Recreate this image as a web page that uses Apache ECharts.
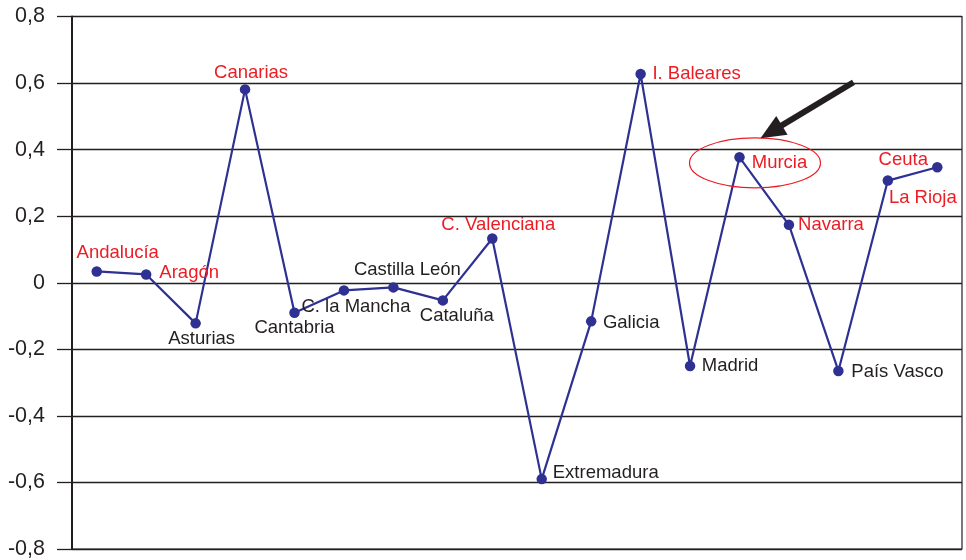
<!DOCTYPE html>
<html>
<head>
<meta charset="utf-8">
<script src="https://cdn.jsdelivr.net/npm/echarts@6/dist/echarts.min.js"></script>
<style>
  html, body { margin: 0; padding: 0; background: #ffffff; }
  #chart { width: 966px; height: 560px; }
</style>
</head>
<body>
<div id="chart"></div>
<script>
// Regions in the order they are plotted along the line
const regions = [
  'Andalucía', 'Aragón', 'Asturias', 'Canarias', 'Cantabria', 'C. la Mancha',
  'Castilla León', 'Cataluña', 'C. Valenciana', 'Extremadura', 'Galicia',
  'I. Baleares', 'Madrid', 'Murcia', 'Navarra', 'País Vasco', 'La Rioja', 'Ceuta'
];

// Value for each region
const values = [
  0.034, 0.025, -0.122, 0.581, -0.090, -0.023,
  -0.014, -0.053, 0.133, -0.590, -0.116,
  0.627, -0.250, 0.377, 0.174, -0.265, 0.307, 0.347
];

// Regions whose label is written in red
const redRegions = [
  'Andalucía', 'Aragón', 'Canarias', 'C. Valenciana', 'I. Baleares',
  'Murcia', 'Navarra', 'La Rioja', 'Ceuta'
];

// Region singled out with an ellipse and an arrow
const circledRegion = 'Murcia';

// Y axis range and step
const yMin = -0.8, yMax = 0.8, yStep = 0.2;

// Label placement: offset of the label centre from its point, in px
const labelOffsets = {
  'Andalucía': [21, -19], 'Aragón': [43, -2], 'Asturias': [6, 16],
  'Canarias': [6, -16], 'Cantabria': [0, 15], 'C. la Mancha': [12, 17],
  'Castilla León': [14, -18], 'Cataluña': [14, 16], 'C. Valenciana': [6, -14],
  'Extremadura': [64, -6], 'Galicia': [40, 2], 'I. Baleares': [56, 0],
  'Madrid': [40, 0], 'Murcia': [40, 6], 'Navarra': [42, 0],
  'País Vasco': [59, 1], 'La Rioja': [35, 17], 'Ceuta': [-34, -7]
};

const INK = '#231f20';
const RED = '#ed1c24';
const NAVY = '#2e3192';
const FONT = '"Liberation Sans", Arial, Helvetica, sans-serif';

const chart = echarts.init(document.getElementById('chart'), null, { renderer: 'canvas' });

const seriesData = values.map((v, i) => ({
  value: v,
  label: {
    offset: labelOffsets[regions[i]] || [0, 0],
    color: redRegions.includes(regions[i]) ? RED : INK
  }
}));

chart.setOption({
  animation: false,
  backgroundColor: '#ffffff',
  grid: {
    left: 72, right: 4, top: 16.5, bottom: 7.7,
    containLabel: false,
    show: true,
    borderColor: INK,
    borderWidth: 1.2
  },
  xAxis: {
    type: 'category',
    data: regions,
    boundaryGap: true,
    axisLine: { show: false },
    axisTick: { show: false },
    axisLabel: { show: false },
    splitLine: { show: false }
  },
  yAxis: {
    type: 'value',
    min: yMin, max: yMax, interval: yStep,
    axisLine: { show: true, lineStyle: { color: INK, width: 2 } },
    axisTick: { show: true, inside: false, length: 15, lineStyle: { color: INK, width: 1.3 } },
    axisLabel: {
      color: INK, fontSize: 21.5, fontFamily: FONT, margin: 27,
      formatter: v => Math.abs(v) < 1e-9 ? '0' : v.toFixed(1).replace('.', ',')
    },
    splitLine: { show: true, lineStyle: { color: INK, width: 1.3 } }
  },
  series: [{
    type: 'line',
    data: seriesData,
    symbol: 'circle',
    symbolSize: 10.5,
    lineStyle: { color: NAVY, width: 2.2 },
    itemStyle: { color: NAVY },
    label: {
      show: true,
      position: 'inside',
      align: 'center',
      verticalAlign: 'middle',
      formatter: '{b}',
      fontSize: 18.5,
      fontFamily: FONT
    },
    z: 3
  }]
});

// Ellipse and arrow drawn around the circled region's point
const ci = regions.indexOf(circledRegion);
const [mx, my] = chart.convertToPixel({ seriesIndex: 0 }, [ci, values[ci]]);

const tail = [mx + 114, my - 75];
const tip = [mx + 21, my - 19];
const dx = tip[0] - tail[0], dy = tip[1] - tail[1];
const len = Math.hypot(dx, dy);
const ux = dx / len, uy = dy / len;
const headLen = 25, headHalf = 11;
const base = [tip[0] - ux * headLen, tip[1] - uy * headLen];
const px = -uy, py = ux;

chart.setOption({
  graphic: [
    {
      type: 'ellipse',
      shape: { cx: mx + 15.5, cy: my + 5.6, rx: 65.5, ry: 25 },
      style: { fill: 'none', stroke: RED, lineWidth: 1.2 },
      z: 10
    },
    {
      type: 'line',
      shape: { x1: tail[0], y1: tail[1], x2: base[0] + ux * 3, y2: base[1] + uy * 3 },
      style: { stroke: INK, lineWidth: 6 },
      z: 10
    },
    {
      type: 'polygon',
      shape: {
        points: [
          tip,
          [base[0] + px * headHalf, base[1] + py * headHalf],
          [base[0] - px * headHalf, base[1] - py * headHalf]
        ]
      },
      style: { fill: INK },
      z: 10
    }
  ]
});
</script>
</body>
</html>
